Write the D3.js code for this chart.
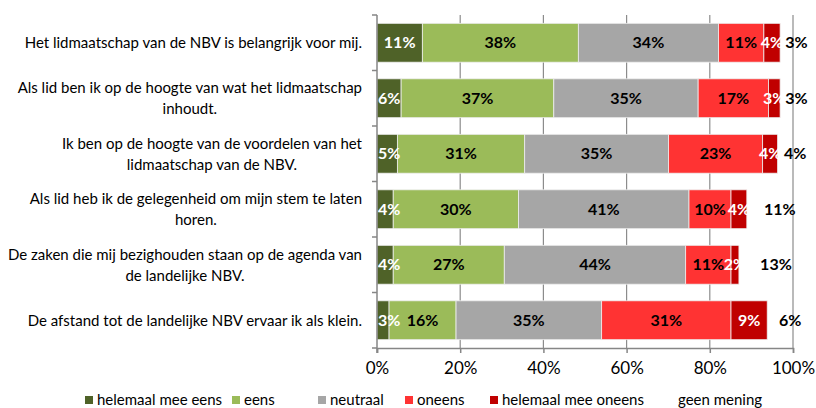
<!DOCTYPE html>
<html>
<head>
<meta charset="utf-8">
<script src="https://cdn.jsdelivr.net/npm/d3@7"></script>
<style>
  body { margin: 0; background: #fff; }
  svg { font-family: Lato, "Open Sans", sans-serif; }
</style>
</head>
<body>
<div id="canvas"></div>
<script>
// statements, top to bottom (line breaks as in the chart)
var categories = [
    "Het lidmaatschap van de NBV is belangrijk voor mij.",
    "Als lid ben ik op de hoogte van wat het lidmaatschap\ninhoudt.",
    "Ik ben op de hoogte van de voordelen van het\nlidmaatschap van de NBV.",
    "Als lid heb ik de gelegenheid om mijn stem te laten\nhoren.",
    "De zaken die mij bezighouden staan op de agenda van\nde landelijke NBV.",
    "De afstand tot de landelijke NBV ervaar ik als klein."
];

var seriesNames = ["helemaal mee eens", "eens", "neutraal", "oneens", "helemaal mee oneens", "geen mening"];

// percentages per answer, one value per statement
var helemaalEens  = [10.9, 5.8, 4.9, 3.9, 3.9, 2.9];
var eens          = [37.5, 36.7, 30.6, 30.1, 26.7, 16.1];
var neutraal      = [33.7, 34.7, 34.6, 41.0, 43.6, 35.0];
var oneens        = [10.9, 16.9, 22.6, 10.1, 10.9, 31.1];
var helemaalOneens = [3.9, 2.8, 3.6, 3.8, 1.9, 8.7];
var geenMening    = [3.1, 3.1, 3.7, 11.1, 13.0, 6.2];

var xTicks = [0, 20, 40, 60, 80, 100];

var seriesValues = [helemaalEens, eens, neutraal, oneens, helemaalOneens, geenMening];
var colors = ["#4f6228", "#9bbb59", "#a6a6a6", "#ff3333", "#c00000", "none"];
var labelColors = ["#fff", "#000", "#000", "#000", "#fff", "#000"];

var width = 816, height = 408;
var margin = {top: 15, right: 23, bottom: 60, left: 377};
var plotW = width - margin.left - margin.right;
var plotH = height - margin.top - margin.bottom;

var svg = d3.select("#canvas")
    .append("svg")
        .attr("width", width)
        .attr("height", height);

var g = svg.append("g")
    .attr("transform", "translate(" + margin.left + "," + margin.top + ")");

var xScale = d3.scaleLinear().domain([0, 100]).range([0, plotW]);
var yScale = d3.scaleBand()
    .domain(d3.range(categories.length))
    .range([0, plotH])
    .paddingInner(0.3)
    .paddingOuter(0.15);

// gridlines
g.selectAll(".grid")
    .data(xTicks.slice(1))
    .enter().append("line")
    .attr("x1", function(d) { return xScale(d); })
    .attr("x2", function(d) { return xScale(d); })
    .attr("y1", 0)
    .attr("y2", plotH)
    .attr("stroke", "#8c8c8c")
    .attr("stroke-width", 1.2);

// build stacked rows
var rows = categories.map(function(c, i) {
    var x0 = 0;
    return seriesValues.map(function(vals, s) {
        var seg = {row: i, s: s, v: vals[i], x0: x0, x1: x0 + vals[i]};
        x0 += vals[i];
        return seg;
    });
});
var segs = [].concat.apply([], rows);

g.selectAll("rect.bar")
    .data(segs.filter(function(d) { return colors[d.s] !== "none"; }))
    .enter().append("rect")
    .attr("class", "bar")
    .attr("x", function(d) { return xScale(d.x0); })
    .attr("y", function(d) { return yScale(d.row); })
    .attr("width", function(d) { return xScale(d.x1) - xScale(d.x0); })
    .attr("height", yScale.bandwidth())
    .attr("fill", function(d) { return colors[d.s]; })
    .attr("stroke", "#eeeeee")
    .attr("stroke-width", 0.8);

// value labels
g.selectAll("text.val")
    .data(segs)
    .enter().append("text")
    .attr("class", "val")
    .attr("y", function(d) { return yScale(d.row) + yScale.bandwidth() / 2; })
    .attr("dy", "0.35em")
    .attr("text-anchor", "middle")
    .attr("font-weight", "bold")
    .attr("font-size", "16px")
    .attr("fill", function(d) { return labelColors[d.s]; })
    .text(function(d) { return Math.round(d.v) + "%"; })
    .attr("x", function(d) {
        var cx = (xScale(d.x0) + xScale(d.x1)) / 2;
        if (d.s === 5) cx += 10;
        var w = this.getComputedTextLength();
        if (cx - w / 2 < 1) cx = 1 + w / 2;
        return cx;
    });

// x axis
var xAxis = d3.axisBottom(xScale)
    .tickValues(xTicks)
    .tickSize(5)
    .tickFormat(function(d) { return d + "%"; });

var xg = g.append("g")
    .attr("transform", "translate(0," + plotH + ")")
    .call(xAxis);
xg.select(".domain").attr("stroke", "#868686").attr("stroke-width", 1.5);
xg.selectAll(".tick line").attr("stroke", "#868686").attr("stroke-width", 1.5);
xg.selectAll(".tick text")
    .attr("font-family", "Lato, sans-serif")
    .attr("font-size", "17px")
    .attr("fill", "#000")
    .attr("dy", "1.05em");

// y axis line with ticks at band edges
g.append("line")
    .attr("x1", 0).attr("x2", 0)
    .attr("y1", 0).attr("y2", plotH + 5)
    .attr("stroke", "#868686").attr("stroke-width", 1.5);
g.selectAll(".ytick")
    .data(d3.range(categories.length + 1))
    .enter().append("line")
    .attr("x1", -5).attr("x2", 0)
    .attr("y1", function(d) { return d * yScale.step(); })
    .attr("y2", function(d) { return d * yScale.step(); })
    .attr("stroke", "#868686").attr("stroke-width", 1.5);

// category labels: block right-aligned, lines centered within block
var lineH = 21;
categories.forEach(function(c, i) {
    var lines = c.split("\n");
    var cy = yScale(i) + yScale.bandwidth() / 2;
    var tg = g.append("g");
    var texts = lines.map(function(l, k) {
        return tg.append("text")
            .attr("font-size", "15px")
            .attr("fill", "#000")
            .attr("text-anchor", "middle")
            .attr("y", cy + (k - (lines.length - 1) / 2) * lineH)
            .attr("dy", "0.35em")
            .text(l);
    });
    var maxW = d3.max(texts, function(t) { return t.node().getComputedTextLength(); });
    texts.forEach(function(t) { t.attr("x", -15 - maxW / 2); });
});

// legend
var legendX = [85, 232, 318, 405, 490, 666];
var legend = svg.append("g").attr("transform", "translate(0,400)");
seriesNames.forEach(function(name, s) {
    var lg = legend.append("g").attr("transform", "translate(" + legendX[s] + ",0)");
    lg.append("rect")
        .attr("x", 0).attr("y", -4)
        .attr("width", 8).attr("height", 8)
        .attr("fill", colors[s]);
    lg.append("text")
        .attr("x", 12)
        .attr("dy", "0.35em")
        .attr("font-size", "15px")
        .text(name);
});
</script>
</body>
</html>
